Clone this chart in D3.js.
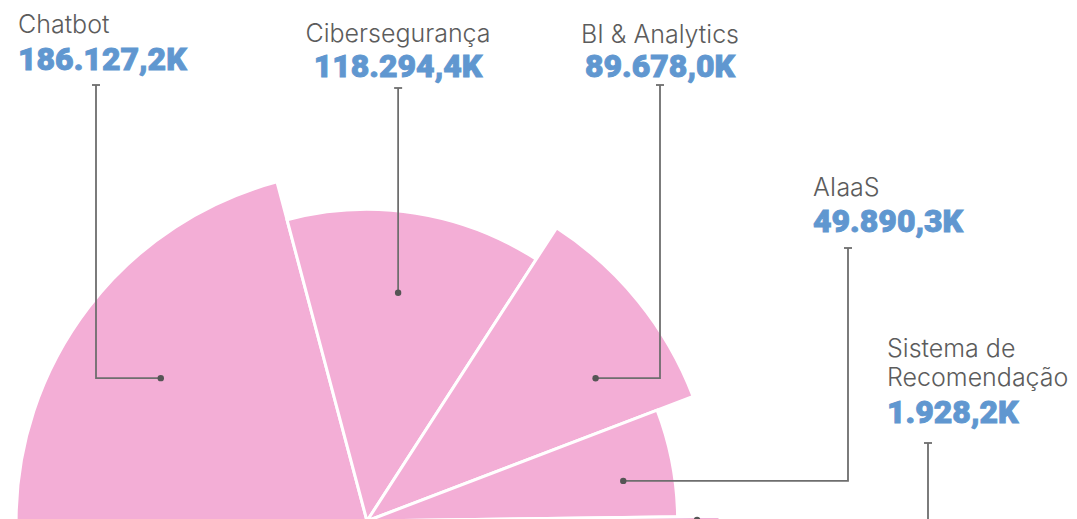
<!DOCTYPE html>
<html lang="pt">
	<head>
		<meta charset="utf-8">
		<title>Segmentos de IA</title>
		<script type="text/javascript" src="https://cdn.jsdelivr.net/npm/d3@7/dist/d3.min.js"></script>
		<style type="text/css">
			body { margin: 0; overflow: hidden; background: #fff; }
			.label { font-family: Inter, "Noto Sans", sans-serif; font-weight: 300; font-size: 25px; fill: #5c5c5c; }
			.value { font-family: Roboto, "Noto Sans", sans-serif; font-weight: 900; font-size: 32px; fill: #6097d0; stroke: #6097d0; stroke-width: 0.9px; }
		</style>
	</head>
	<body>

		<div id="chart"></div>

		<script type="text/javascript">

		// data
		var categories = ["Chatbot", "Cibersegurança", "BI & Analytics", "AIaaS", "Sistema de Recomendação"]
		var values = [186127.2, 118294.4, 89678.0, 49890.3, 1928.2]
		var radiusScore = [99.4, 88.3, 98.9, 88.0, 100]

		// label placement (layout only)
		var labelLayout = [
			{x: 18,  anchor: "start",  labelY: 33,  valueY: 70,  top: 85,  lineX: 96,   dotA: 0.462, dotR: 0.715},
			{x: 398, anchor: "middle", labelY: 42,  valueY: 77,  top: 88,  lineX: null, dotA: 0.474, dotR: 0.739},
			{x: 660, anchor: "middle", labelY: 43,  valueY: 77,  top: 85,  lineX: 660,  dotA: 0.694, dotR: 0.772},
			{x: 813, anchor: "start",  labelY: 196, valueY: 232, top: 248, lineX: 848,  dotA: 0.597, dotR: 0.835},
			{x: 887, anchor: "start",  labelY: 357, valueY: 423, top: 443, lineX: 928,  dotA: 0.74,  dotR: 0.935}
		]

		var w = 1077
		var h = 560
		var cx = 367
		var cy = 521

		var fmt = d3.formatLocale({decimal: ",", thousands: ".", grouping: [3], currency: ["R$", ""]}).format(",.1f")

		var data = categories.map(function(c, i) {
			return {name: c, value: values[i], score: radiusScore[i], layout: labelLayout[i]}
		})

		var svg = d3.select("#chart")
				.append("svg")
				.attr("width", w)
				.attr("height", h)

		var rScale = d3.scaleLinear()
				.domain([0, 100])
				.range([0, 353])

		var pie = d3.pie()
				.sort(null)
				.value(function(d) { return d.value })
				.startAngle(-Math.PI / 2)
				.endAngle(Math.PI / 2)

		var arcs = pie(data)

		var arc = d3.arc()
				.innerRadius(0)
				.outerRadius(function(d) { return rScale(d.data.score) })

		var g = svg.append("g")
				.attr("transform", "translate(" + cx + "," + cy + ")")

		g.selectAll("path")
				.data(arcs)
				.enter()
				.append("path")
				.attr("d", arc)
				.style("fill", "#f3aed6")
				.style("stroke", "#fff")
				.style("stroke-width", 3)

		// leader lines
		arcs.forEach(function(d) {
			var L = d.data.layout
			var a = d.startAngle + (d.endAngle - d.startAngle) * L.dotA
			var r = rScale(d.data.score) * L.dotR
			var px = cx + r * Math.sin(a)
			var py = cy - r * Math.cos(a)
			var lx = L.lineX === null ? px : L.lineX

			svg.append("path")
					.attr("d", "M" + px + "," + py + "H" + lx + "V" + L.top)
					.style("fill", "none")
					.style("stroke", "#6e6e6e")
					.style("stroke-width", 1.8)

			svg.append("line")
					.attr("x1", lx - 4)
					.attr("x2", lx + 4)
					.attr("y1", L.top)
					.attr("y2", L.top)
					.style("stroke", "#6e6e6e")
					.style("stroke-width", 1.8)

			svg.append("circle")
					.attr("cx", px)
					.attr("cy", py)
					.attr("r", 3.2)
					.style("fill", "#555")
		})

		// labels
		data.forEach(function(d) {
			var L = d.layout
			var label = svg.append("text")
					.attr("class", "label")
					.attr("x", L.x)
					.attr("y", L.labelY)
					.attr("text-anchor", L.anchor)

			// simple word wrap
			var words = d.name.split(" ")
			var line = []
			var tspan = label.append("tspan").attr("x", L.x)
			words.forEach(function(word) {
				line.push(word)
				tspan.text(line.join(" "))
				if (tspan.node().getComputedTextLength() > 200 && line.length > 1) {
					line.pop()
					tspan.text(line.join(" "))
					line = [word]
					tspan = label.append("tspan")
							.attr("x", L.x)
							.attr("dy", 29)
							.text(word)
				}
			})

			svg.append("text")
					.attr("class", "value")
					.attr("x", L.x)
					.attr("y", L.valueY)
					.attr("text-anchor", L.anchor)
					.text(fmt(d.value) + "K")
		})

		</script>
	</body>
</html>
